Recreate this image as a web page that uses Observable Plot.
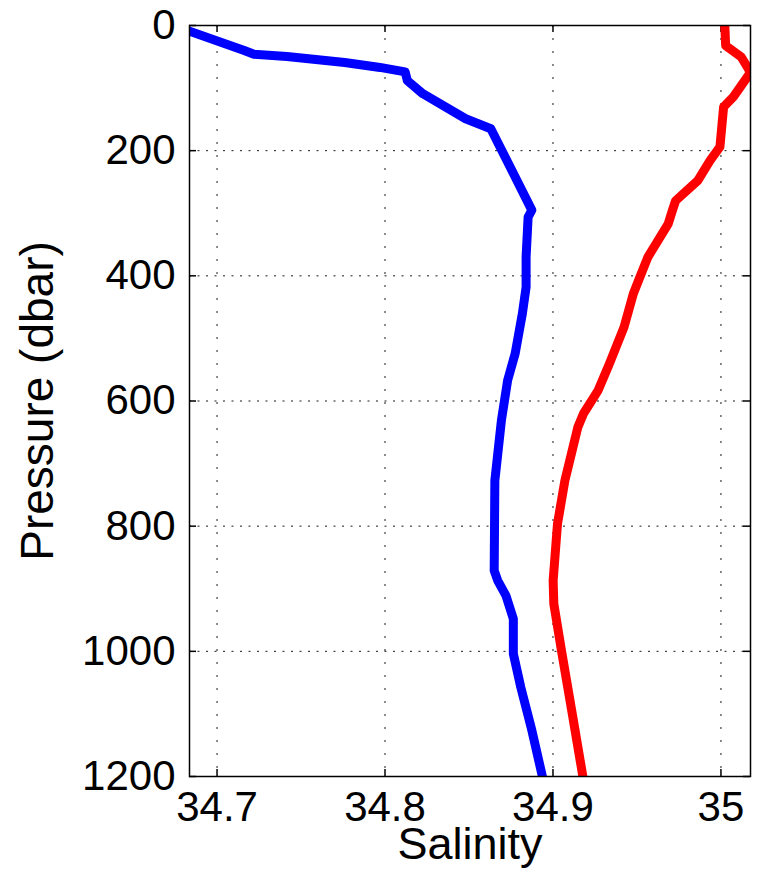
<!DOCTYPE html>
<html>
<head>
<meta charset="utf-8">
<script src="https://cdn.jsdelivr.net/npm/d3@7"></script>
<script src="https://cdn.jsdelivr.net/npm/@observablehq/plot@0.6"></script>
<style>
  html, body { margin: 0; padding: 0; background: #fff; }
  #chart svg { display: block; }
</style>
</head>
<body>
<div id="chart"></div>
<script>
// Salinity profiles against pressure (dbar)
const profile1Pressure = [9, 40, 46, 49.5, 59, 67, 74, 88, 109, 149, 165, 295, 306, 370, 418, 460, 524, 567, 631, 727, 871, 887, 911, 948, 1004, 1057, 1126, 1200];
const profile1Salinity = [34.6836, 34.7162, 34.722, 34.7416, 34.776, 34.797, 34.812, 34.8133, 34.8225, 34.848, 34.863, 34.8874, 34.8852, 34.884, 34.884, 34.8818, 34.8775, 34.873, 34.8693, 34.8654, 34.865, 34.8671, 34.872, 34.8764, 34.8764, 34.8808, 34.8874, 34.8937];

const profile2Pressure = [0, 32, 50, 75, 114, 130, 162, 194, 216, 248, 280, 298, 317, 370, 407, 429, 482, 541, 583, 620, 642, 727, 796, 887, 924, 998, 1100, 1200];
const profile2Salinity = [35.0023, 35.0028, 35.012, 35.0176, 35.0074, 35.0016, 35.0005, 34.9994, 34.9935, 34.9862, 34.973, 34.9708, 34.9686, 34.9565, 34.951, 34.9478, 34.9423, 34.9335, 34.9269, 34.9182, 34.9148, 34.9071, 34.9027, 34.9001, 34.9005, 34.905, 34.9115, 34.9178];

const salinityTicks = [34.7, 34.8, 34.9, 35];
const pressureTicks = [0, 200, 400, 600, 800, 1000, 1200];
const salinityDomain = [34.6836, 35.0176];
const pressureDomain = [0, 1200];

const profile1 = profile1Pressure.map((p, i) => ({p, s: profile1Salinity[i]}));
const profile2 = profile2Pressure.map((p, i) => ({p, s: profile2Salinity[i]}));

const W = 759, H = 883;
const mL = 189, mR = 9, mT = 25, mB = 107;
const frameW = W - mL - mR, frameH = H - mT - mB;
const tickLen = 7;

const chart = Plot.plot({
  width: W,
  height: H,
  marginLeft: mL,
  marginRight: mR,
  marginTop: mT,
  marginBottom: mB,
  style: {fontFamily: "'Liberation Sans', Arial, Helvetica, sans-serif", fontSize: "42px", color: "#000", background: "#fff"},
  x: {domain: salinityDomain, ticks: salinityTicks},
  y: {domain: pressureDomain, reverse: true, ticks: pressureTicks},
  marks: [
    // dotted grid
    Plot.gridX(salinityTicks, {stroke: "#000", strokeOpacity: 0.9, strokeWidth: 1, strokeDasharray: "2,11"}),
    Plot.gridY(pressureTicks, {stroke: "#000", strokeOpacity: 0.9, strokeWidth: 1, strokeDasharray: "2,6.5"}),
    // inward tick marks on all four sides
    Plot.tickX(salinityTicks, {x: d => d, stroke: "#000", strokeWidth: 1.5, insetTop: frameH - tickLen}),
    Plot.tickX(salinityTicks, {x: d => d, stroke: "#000", strokeWidth: 1.5, insetBottom: frameH - tickLen}),
    Plot.tickY(pressureTicks, {y: d => d, stroke: "#000", strokeWidth: 1.5, insetRight: frameW - tickLen}),
    Plot.tickY(pressureTicks, {y: d => d, stroke: "#000", strokeWidth: 1.5, insetLeft: frameW - tickLen}),
    // profiles
    Plot.line(profile1, {x: "s", y: "p", stroke: "#0000ff", strokeWidth: 9, strokeLinejoin: "round", clip: true}),
    Plot.line(profile2, {x: "s", y: "p", stroke: "#ff0000", strokeWidth: 9, strokeLinejoin: "round", clip: true}),
    Plot.frame({stroke: "#000", strokeWidth: 1.5}),
    // axes
    Plot.axisX(salinityTicks, {tickSize: 0, tickPadding: 15, tickFormat: d => String(d), label: null, fill: "#000"}),
    Plot.axisY(pressureTicks, {tickSize: 0, tickPadding: 14, tickFormat: d => String(d), label: null, fill: "#000"}),
    Plot.text(["Salinity"], {text: d => d, frameAnchor: "bottom", dy: 68, lineAnchor: "middle", fontSize: 45, fill: "#000"}),
    Plot.text(["Pressure (dbar)"], {text: d => d, frameAnchor: "left", textAnchor: "middle", dx: -151, rotate: -90, lineAnchor: "middle", fontSize: 46, fill: "#000"})
  ]
});

document.getElementById("chart").appendChild(chart);
</script>
</body>
</html>
